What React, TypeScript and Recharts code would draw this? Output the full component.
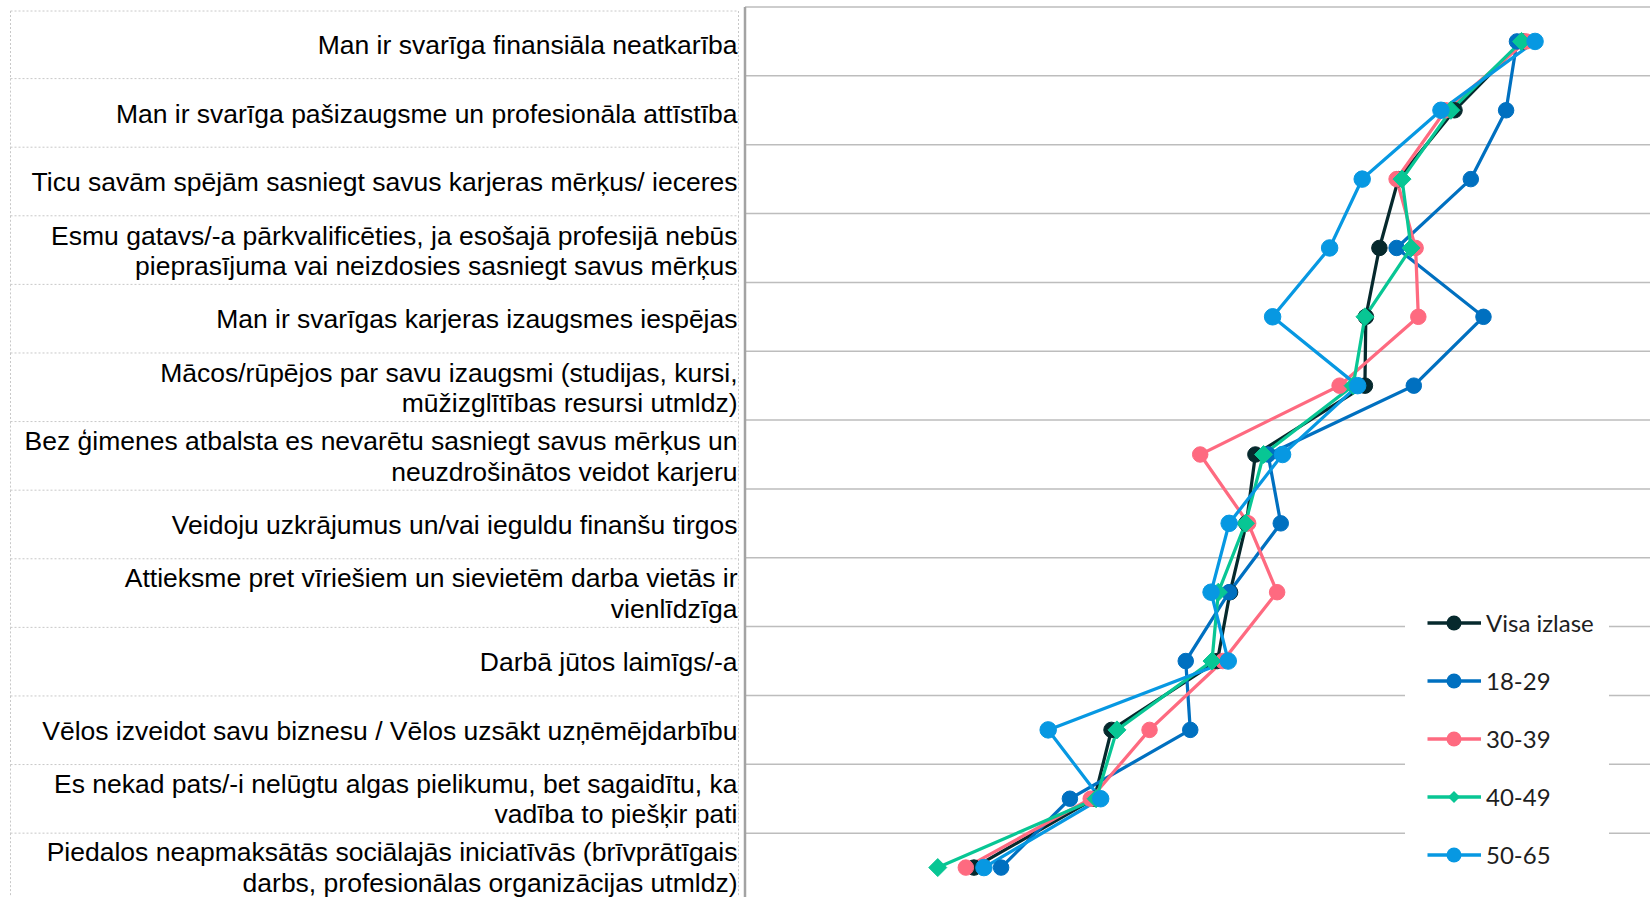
import React from 'react';
import { LineChart, Line, XAxis, YAxis, CartesianGrid, Legend } from 'recharts';

const labels: string[] = [
  'Man ir svarīga finansiāla neatkarība',
  'Man ir svarīga pašizaugsme un profesionāla attīstība',
  'Ticu savām spējām sasniegt savus karjeras mērķus/ ieceres',
  'Esmu gatavs/-a pārkvalificēties, ja esošajā profesijā nebūs\npieprasījuma vai neizdosies sasniegt savus mērķus',
  'Man ir svarīgas karjeras izaugsmes iespējas',
  'Mācos/rūpējos par savu izaugsmi (studijas, kursi,\nmūžizglītības resursi utmldz)',
  'Bez ģimenes atbalsta es nevarētu sasniegt savus mērķus un\nneuzdrošinātos veidot karjeru',
  'Veidoju uzkrājumus un/vai ieguldu finanšu tirgos',
  'Attieksme pret vīriešiem un sievietēm darba vietās ir\nvienlīdzīga',
  'Darbā jūtos laimīgs/-a',
  'Vēlos izveidot savu biznesu / Vēlos uzsākt uzņēmējdarbību',
  'Es nekad pats/-i nelūgtu algas pielikumu, bet sagaidītu, ka\nvadība to piešķir pati',
  'Piedalos neapmaksātās sociālajās iniciatīvās (brīvprātīgais\ndarbs, profesionālas organizācijas utmldz)',
];

const visaIzlase = [85.9, 78.4, 72.2, 70.1, 68.6, 68.5, 56.4, 55.4, 53.6, 52.2, 40.5, 38.6, 25.3];
const age1829 = [85.3, 84.1, 80.2, 72.0, 81.6, 73.9, 57.8, 59.2, 53.5, 48.7, 49.2, 35.9, 28.3];
const age3039 = [86.3, 77.4, 72.0, 74.1, 74.4, 65.7, 50.3, 55.6, 58.8, 52.8, 44.7, 38.2, 24.4];
const age4049 = [85.8, 78.0, 72.6, 73.6, 68.5, 67.2, 57.3, 55.3, 52.3, 51.6, 41.1, 38.8, 21.3];
const age5065 = [87.3, 76.9, 68.2, 64.6, 58.3, 67.7, 59.4, 53.5, 51.5, 53.4, 33.5, 39.3, 26.4];

const seriesNames = ['Visa izlase', '18-29', '30-39', '40-49', '50-65'];
const seriesKeys = ['visa', 'a1829', 'a3039', 'a4049', 'a5065'];
const seriesColors = ['#06292d', '#0070c0', '#fe6a80', '#08c694', '#0798e2'];

const data = labels.map((label, i) => ({
  label,
  visa: visaIzlase[i],
  a1829: age1829[i],
  a3039: age3039[i],
  a4049: age4049[i],
  a5065: age5065[i],
}));

const CHART_W = 1650;
const CHART_H = 902;
const MARGIN_TOP = 7;
const AXIS_W = 745;
const ROW_H = (CHART_H - MARGIN_TOP) / labels.length;

const gridGenerator = (props: any) => {
  const off = props.offset || {};
  const top = off.top ?? MARGIN_TOP;
  const h = off.height ?? CHART_H - MARGIN_TOP;
  const n = labels.length;
  return Array.from({ length: n + 1 }, (_, k) => top + (k * h) / n);
};

const LabelTick = (props: any) => {
  const { y, payload, index } = props;
  const half = ROW_H / 2;
  const lines = String(payload.value).split('\n');
  const center = y + 3.5 - index * 0.33;
  const lineGap = 30.5;
  const firstBaseline = center - ((lines.length - 1) * lineGap) / 2 + 9.5;
  const top = y - half + (index === 0 ? 4 : 3 - index * 0.25);
  const bottom = y + half + 3 - (index + 1) * 0.25;
  const dash = { stroke: '#c8c8c8', strokeWidth: 1, strokeDasharray: '2 2' };
  return (
    <g>
      <line x1={10.5} x2={738.5} y1={top} y2={top} {...dash} />
      <line x1={10.5} x2={10.5} y1={top} y2={bottom} {...dash} />
      <line x1={738.5} x2={738.5} y1={top} y2={bottom} {...dash} />
      <text
        textAnchor="end"
        fontFamily="'Liberation Sans', Arial, sans-serif"
        fontSize={26.5}
        fill="#000"
      >
        {lines.map((l, i) => (
          <tspan key={i} x={737.5} y={firstBaseline + i * lineGap}>
            {l}
          </tspan>
        ))}
      </text>
    </g>
  );
};

const makeDiamond = (color: string, h: number) => (p: any) => {
  const { cx, cy, index } = p;
  if (cx == null || cy == null) return <g key={`d-${index}`} />;
  return (
    <path
      key={`d-${index}`}
      d={`M${cx},${cy - h} L${cx + h},${cy} L${cx},${cy + h} L${cx - h},${cy} Z`}
      fill={color}
      stroke={color}
      strokeWidth={1}
    />
  );
};

const renderLegend = (props: any) => {
  const payload = [...(props.payload || [])].sort(
    (a: any, b: any) => seriesNames.indexOf(a.value) - seriesNames.indexOf(b.value)
  );
  return (
    <div style={{ background: '#fff', width: 204, height: 320, position: 'relative' }}>
      {payload.map((entry: any, i: number) => {
        const idx = seriesNames.indexOf(entry.value);
        const color = entry.color;
        const isDiamond = idx === 3;
        return (
          <div
            key={i}
            style={{
              position: 'absolute',
              left: 20,
              top: 33 + i * 58.1 - 16,
              height: 32,
              display: 'flex',
              alignItems: 'center',
              whiteSpace: 'nowrap',
            }}
          >
            <svg width={60} height={32} style={{ display: 'block' }}>
              <line x1={2.5} x2={56} y1={16} y2={16} stroke={color} strokeWidth={3.5} />
              {isDiamond ? (
                <path d="M29,10 L35,16 L29,22 L23,16 Z" fill={color} />
              ) : (
                <circle cx={29} cy={16} r={7.5} fill={color} />
              )}
            </svg>
            <span
              style={{
                fontFamily: 'Lato, sans-serif',
                fontSize: 24,
                color: '#1e1e1e',
                marginLeft: 1,
                lineHeight: '32px',
              }}
            >
              {entry.value}
            </span>
          </div>
        );
      })}
    </div>
  );
};

export default function App() {
  return (
    <div
      style={{
        position: 'absolute',
        left: 0,
        top: 0,
        width: 1650,
        height: 897,
        overflow: 'hidden',
        background: '#fff',
      }}
    >
      <LineChart
        width={CHART_W}
        height={CHART_H}
        data={data}
        layout="vertical"
        margin={{ top: MARGIN_TOP, right: 0, bottom: 0, left: 0 }}
      >
        <CartesianGrid
          horizontal={true}
          vertical={false}
          stroke="#bdbdbd"
          strokeWidth={1.5}
          horizontalCoordinatesGenerator={gridGenerator}
        />
        <XAxis type="number" domain={[0, 100]} hide />
        <YAxis
          type="category"
          dataKey="label"
          scale="band"
          width={AXIS_W}
          interval={0}
          tickLine={false}
          axisLine={{ stroke: '#a3a3a3', strokeWidth: 2.5 }}
          tick={(p: any) => <LabelTick {...p} />}
        />
        {seriesKeys.map((k, i) => (
          <Line
            key={k}
            type="linear"
            dataKey={k}
            name={seriesNames[i]}
            stroke={seriesColors[i]}
            strokeWidth={3.25}
            isAnimationActive={false}
            activeDot={false}
            dot={
              i === 3
                ? makeDiamond(seriesColors[i], 9)
                : { r: i === 4 ? 8.25 : 7.75, fill: seriesColors[i], stroke: seriesColors[i], strokeWidth: 1 }
            }
          />
        ))}
        <Legend
          layout="vertical"
          align="center"
          verticalAlign="middle"
          content={renderLegend}
          wrapperStyle={{ left: 1405, top: 590, width: 204, height: 320 }}
        />
      </LineChart>
    </div>
  );
}
